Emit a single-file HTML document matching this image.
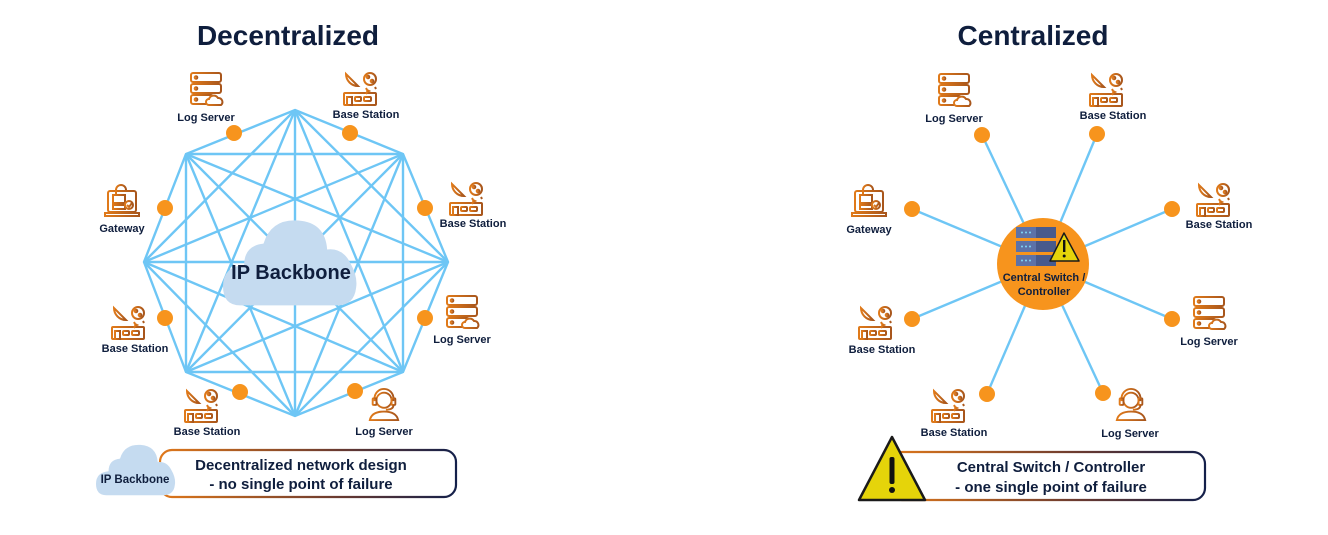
<!DOCTYPE html>
<html><head><meta charset="utf-8"><style>
html,body{margin:0;padding:0;background:#fff;}
svg{display:block;font-family:"Liberation Sans",sans-serif;}
.lbl{font-size:11px;font-weight:bold;fill:#0f1e3d;text-anchor:middle;}
</style></head><body>
<svg width="1328" height="535" viewBox="0 0 1328 535" xmlns="http://www.w3.org/2000/svg">
<defs>
<linearGradient id="og" x1="0" y1="0" x2="1" y2="0"><stop offset="0" stop-color="#e07a1a"/><stop offset="1" stop-color="#a8561c"/></linearGradient>
<linearGradient id="bx" x1="0" y1="0" x2="1" y2="0"><stop offset="0" stop-color="#e0781a"/><stop offset="0.6" stop-color="#6a3a30"/><stop offset="1" stop-color="#14204a"/></linearGradient>
<symbol id="srv" viewBox="0 0 36 36"><g fill="none" stroke="url(#og)" stroke-width="2">
<rect x="3" y="2" width="30" height="9" rx="2"/><rect x="3" y="13" width="30" height="9" rx="2"/><rect x="3" y="24" width="22" height="9" rx="2"/>
<circle cx="8" cy="6.5" r="1.3"/><circle cx="8" cy="17.5" r="1.3"/><circle cx="8" cy="28.5" r="1.3"/>
<line x1="20" y1="5" x2="29" y2="5"/><line x1="20" y1="8" x2="29" y2="8"/>
<path d="M21 34 h12 a4 4 0 0 0 -3 -7 a5 5 0 0 0 -9 1 a3 3 0 0 0 0 6z" fill="#fff"/></g></symbol>
<symbol id="bs" viewBox="0 0 36 36"><g fill="none" stroke="url(#og)" stroke-width="2">
<rect x="2" y="22" width="32" height="12" rx="1"/><rect x="5" y="26" width="5" height="8"/><rect x="13" y="26" width="6" height="4" rx="1"/><rect x="22" y="26" width="7" height="4" rx="1"/>
<path d="M4 3 a12 12 0 0 0 12 12z"/><line x1="9" y1="12" x2="9" y2="22"/>
<circle cx="28" cy="8" r="6"/><circle cx="26" cy="6" r="1.3"/><circle cx="30" cy="10" r="1.3"/>
<path d="M24 17 l1 2 l2 1 l-2 1 l-1 2 M33 16 l1 2"/></g></symbol>
<symbol id="gw" viewBox="0 0 36 36"><g fill="none" stroke="url(#og)" stroke-width="2">
<rect x="4" y="8" width="28" height="21" rx="2"/><path d="M1 30 h34 v3 h-34z"/>
<path d="M12 12 v-5 a5 5 0 0 1 10 0"/><rect x="9" y="12" width="12" height="8"/>
<rect x="9" y="22" width="12" height="4"/><circle cx="25" cy="22" r="4"/><path d="M23 22 l2 2 l3 -4"/></g></symbol>
<symbol id="hs" viewBox="0 0 36 36"><g fill="none" stroke="url(#og)" stroke-width="2">
<circle cx="18" cy="14" r="8"/><path d="M8 15 v-3 a10 10 0 0 1 20 0 v3"/><rect x="6" y="12" width="4" height="7" rx="1"/><rect x="26" y="12" width="4" height="7" rx="1"/>
<path d="M28 19 q0 5 -8 5"/><path d="M3 35 q2 -9 15 -9 q13 0 15 9z"/></g></symbol>
<symbol id="cloud" viewBox="0 0 140 90"><path fill="#c5dbf0" d="M18 90 Q0 90 0 70 Q0 50 22 48 Q22 28 42 26 Q50 0 78 2 Q106 4 108 32 Q124 30 132 46 Q140 60 138 72 Q136 90 118 90Z"/></symbol>
</defs>

<text x="288" y="45" font-size="28" font-weight="bold" fill="#0f1e3d" text-anchor="middle">Decentralized</text>
<text x="1033" y="45" font-size="28" font-weight="bold" fill="#0f1e3d" text-anchor="middle">Centralized</text>

<g stroke="#6ec6f5" stroke-width="2.4" fill="none">
<polygon points="295,110 403,154 448,262 403,372 295,416 186,372 144,262 186,154"/>
<line x1="295" y1="110" x2="448" y2="262"/><line x1="295" y1="110" x2="403" y2="372"/><line x1="295" y1="110" x2="295" y2="416"/><line x1="295" y1="110" x2="186" y2="372"/><line x1="295" y1="110" x2="144" y2="262"/>
<line x1="403" y1="154" x2="403" y2="372"/><line x1="403" y1="154" x2="295" y2="416"/><line x1="403" y1="154" x2="186" y2="372"/><line x1="403" y1="154" x2="144" y2="262"/><line x1="403" y1="154" x2="186" y2="154"/>
<line x1="448" y1="262" x2="295" y2="416"/><line x1="448" y1="262" x2="186" y2="372"/><line x1="448" y1="262" x2="144" y2="262"/><line x1="448" y1="262" x2="186" y2="154"/>
<line x1="403" y1="372" x2="186" y2="372"/><line x1="403" y1="372" x2="144" y2="262"/><line x1="403" y1="372" x2="186" y2="154"/>
<line x1="295" y1="416" x2="144" y2="262"/><line x1="295" y1="416" x2="186" y2="154"/>
<line x1="186" y1="372" x2="186" y2="154"/>
</g>
<use href="#cloud" x="223" y="218" width="135" height="88"/>
<text x="291" y="279" font-size="20" font-weight="bold" fill="#0f1e3d" text-anchor="middle">IP Backbone</text>

<g fill="#f7941d">
<circle cx="234" cy="133" r="8"/><circle cx="350" cy="133" r="8"/><circle cx="425" cy="208" r="8"/><circle cx="425" cy="318" r="8"/>
<circle cx="240" cy="392" r="8"/><circle cx="355" cy="391" r="8"/><circle cx="165" cy="208" r="8"/><circle cx="165" cy="318" r="8"/>
</g>

<use href="#srv" x="188" y="71" width="36" height="36"/><text class="lbl" x="206" y="121">Log Server</text>
<use href="#bs" x="342" y="71" width="36" height="36"/><text class="lbl" x="366" y="118">Base Station</text>
<use href="#bs" x="448" y="181" width="36" height="36"/><text class="lbl" x="473" y="227">Base Station</text>
<use href="#gw" x="104" y="183" width="36" height="36"/><text class="lbl" x="122" y="232">Gateway</text>
<use href="#srv" x="444" y="294" width="36" height="36"/><text class="lbl" x="462" y="343">Log Server</text>
<use href="#bs" x="110" y="305" width="36" height="36"/><text class="lbl" x="135" y="352">Base Station</text>
<use href="#bs" x="183" y="388" width="36" height="36"/><text class="lbl" x="207" y="435">Base Station</text>
<use href="#hs" x="367" y="386" width="34" height="36"/><text class="lbl" x="384" y="435">Log Server</text>

<rect x="160" y="450" width="296" height="47" rx="12" fill="#fff" stroke="url(#bx)" stroke-width="2.2"/>
<use href="#cloud" x="96" y="442" width="80" height="55"/>
<text x="135" y="483" font-size="11.5" font-weight="bold" fill="#0f1e3d" text-anchor="middle">IP Backbone</text>
<text x="301" y="470" font-size="15" font-weight="bold" fill="#0f1e3d" text-anchor="middle">Decentralized network design</text>
<text x="301" y="489" font-size="15" font-weight="bold" fill="#0f1e3d" text-anchor="middle">- no single point of failure</text>

<g stroke="#6ec6f5" stroke-width="2.4">
<line x1="982" y1="135" x2="1043" y2="264"/><line x1="1097" y1="134" x2="1043" y2="264"/><line x1="912" y1="209" x2="1043" y2="264"/><line x1="1172" y1="209" x2="1043" y2="264"/>
<line x1="912" y1="319" x2="1043" y2="264"/><line x1="1172" y1="319" x2="1043" y2="264"/><line x1="987" y1="394" x2="1043" y2="264"/><line x1="1103" y1="393" x2="1043" y2="264"/>
</g>
<g fill="#f7941d">
<circle cx="982" cy="135" r="8"/><circle cx="1097" cy="134" r="8"/><circle cx="912" cy="209" r="8"/><circle cx="1172" cy="209" r="8"/>
<circle cx="912" cy="319" r="8"/><circle cx="1172" cy="319" r="8"/><circle cx="987" cy="394" r="8"/><circle cx="1103" cy="393" r="8"/>
<circle cx="1043" cy="264" r="46"/>
</g>
<g>
<rect x="1016" y="227" width="40" height="11" fill="#485a8c"/><rect x="1016" y="241" width="40" height="11" fill="#485a8c"/><rect x="1016" y="255" width="40" height="11" fill="#485a8c"/>
<rect x="1016" y="227" width="20" height="11" fill="#5d72a8"/><rect x="1016" y="241" width="20" height="11" fill="#5d72a8"/><rect x="1016" y="255" width="20" height="11" fill="#5d72a8"/>
<g fill="#7fd7f7"><circle cx="1022" cy="232.5" r="1"/><circle cx="1026" cy="232.5" r="1"/><circle cx="1030" cy="232.5" r="1"/><circle cx="1022" cy="246.5" r="1"/><circle cx="1026" cy="246.5" r="1"/><circle cx="1030" cy="246.5" r="1"/><circle cx="1022" cy="260.5" r="1"/><circle cx="1026" cy="260.5" r="1"/><circle cx="1030" cy="260.5" r="1"/></g>
<path d="M1064 233 L1079 261 L1050 261Z" fill="#e5d40a" stroke="#1a1a1a" stroke-width="1.5" stroke-linejoin="round"/>
<rect x="1063" y="240" width="2.4" height="12" fill="#111"/><circle cx="1064.2" cy="256" r="1.5" fill="#111"/>
</g>
<text x="1044" y="281" font-size="11" font-weight="bold" fill="#0f1e3d" text-anchor="middle">Central Switch /</text>
<text x="1044" y="295" font-size="11" font-weight="bold" fill="#0f1e3d" text-anchor="middle">Controller</text>

<use href="#srv" x="936" y="72" width="36" height="36"/><text class="lbl" x="954" y="122">Log Server</text>
<use href="#bs" x="1088" y="72" width="36" height="36"/><text class="lbl" x="1113" y="119">Base Station</text>
<use href="#gw" x="851" y="183" width="36" height="36"/><text class="lbl" x="869" y="233">Gateway</text>
<use href="#bs" x="1195" y="182" width="36" height="36"/><text class="lbl" x="1219" y="228">Base Station</text>
<use href="#bs" x="857" y="305" width="36" height="36"/><text class="lbl" x="882" y="353">Base Station</text>
<use href="#srv" x="1191" y="295" width="36" height="36"/><text class="lbl" x="1209" y="345">Log Server</text>
<use href="#bs" x="930" y="388" width="36" height="36"/><text class="lbl" x="954" y="436">Base Station</text>
<use href="#hs" x="1114" y="386" width="34" height="36"/><text class="lbl" x="1130" y="437">Log Server</text>

<rect x="890" y="452" width="315" height="48" rx="12" fill="#fff" stroke="url(#bx)" stroke-width="2.2"/>
<path d="M892 437 L925 500 L859 500Z" fill="#e5d40a" stroke="#1a1a1a" stroke-width="2.5" stroke-linejoin="round"/>
<rect x="889.5" y="457" width="5" height="27" rx="2" fill="#111"/><circle cx="892" cy="490" r="3" fill="#111"/>
<text x="1051" y="472" font-size="15" font-weight="bold" fill="#0f1e3d" text-anchor="middle">Central Switch / Controller</text>
<text x="1051" y="492" font-size="15" font-weight="bold" fill="#0f1e3d" text-anchor="middle">- one single point of failure</text>
</svg>
</body></html>
